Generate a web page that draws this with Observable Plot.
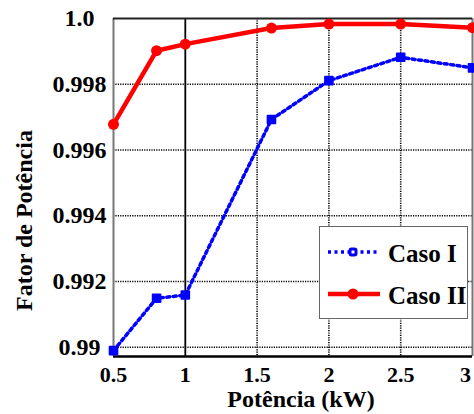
<!DOCTYPE html>
<html>
<head>
<meta charset="utf-8">
<script src="https://cdn.jsdelivr.net/npm/d3@7"></script>
<script src="https://cdn.jsdelivr.net/npm/@observablehq/plot@0.6"></script>
<style>
  html, body { margin: 0; padding: 0; background: #fff; }
  #chart { position: relative; width: 474px; height: 414px; }
  #chart svg, #chart svg text { font-family: "Liberation Serif", "Times New Roman", serif !important; font-weight: bold; }
</style>
</head>
<body>
<div id="chart"></div>
<script>
const potencia = [0.5, 0.8, 1.0, 1.6, 2.0, 2.5, 3.0];
const casoI = [0.98990, 0.99149, 0.99159, 0.99693, 0.99811, 0.99882, 0.99850];
const casoII = [0.99678, 0.99902, 0.99922, 0.99971, 0.99983, 0.99983, 0.99972];
const seriesNames = ["Caso I", "Caso II"];
const xTicks = [0.5, 1, 1.5, 2, 2.5, 3];
const xTickLabels = ["0.5", "1", "1.5", "2", "2.5", "3"];
const yTicks = [0.99, 0.992, 0.994, 0.996, 0.998, 1.0];
const yTickLabels = ["0.99", "0.992", "0.994", "0.996", "0.998", "1.0"];
const xDomain = [0.5, 3];
const yDomain = [0.98972, 1.0];

const dataI = potencia.map((x, i) => ({x, y: casoI[i]}));
const dataII = potencia.map((x, i) => ({x, y: casoII[i]}));

const font = "Liberation Serif";
const xLabel = d => xTickLabels[xTicks.indexOf(d)];

const plot = Plot.plot({
  width: 474,
  height: 414,
  marginLeft: 113,
  marginRight: 2,
  marginTop: 18,
  marginBottom: 58,
  style: {background: "#fff"},
  x: {domain: xDomain},
  y: {domain: yDomain},
  marks: [
    // grid
    Plot.ruleY(yTicks.filter(d => d < 1), {stroke: "#000", strokeWidth: 1.6, strokeDasharray: "1.2,1.2"}),
    Plot.ruleX(xTicks.filter(d => d > 1 && d < 3), {stroke: "#000", strokeWidth: 1.6, strokeDasharray: "1.2,1.2"}),
    Plot.ruleX([1], {stroke: "#000", strokeWidth: 1.8}),
    // frame
    Plot.ruleX([xDomain[0]], {stroke: "#777", strokeWidth: 2}),
    Plot.ruleX([xDomain[1]], {stroke: "#777", strokeWidth: 2}),
    Plot.ruleY([yDomain[1]], {stroke: "#222", strokeWidth: 2}),
    Plot.ruleY([yDomain[0]], {stroke: "#000", strokeWidth: 2.5}),
    // axes
    Plot.axisX({
      ticks: xTicks.slice(0, -1), tickFormat: xLabel, tickSize: 0, tickPadding: 10,
      fontSize: 22, fontWeight: "bold", fontFamily: font, label: null
    }),
    Plot.axisX({
      ticks: xTicks.slice(-1), tickFormat: xLabel, tickSize: 0, tickPadding: 10, dx: -7,
      fontSize: 22, fontWeight: "bold", fontFamily: font, label: null
    }),
    Plot.axisY({
      ticks: yTicks, tickFormat: (d, i) => yTickLabels[i], tickSize: 0, tickPadding: 34,
      textAnchor: "middle", fontSize: 24, fontWeight: "bold", fontFamily: font, label: null
    }),
    Plot.text(["Potência (kW)"], {frameAnchor: "bottom", lineAnchor: "middle", textAnchor: "middle", dx: 8, dy: 43, fontSize: 24, fontWeight: "bold", fontFamily: font, fill: "#000"}),
    Plot.text(["Fator de Potência"], {frameAnchor: "left", lineAnchor: "middle", textAnchor: "middle", rotate: -90, dx: -89, dy: 33, fontSize: 24, fontWeight: "bold", fontFamily: font, fill: "#000"}),
    // Caso I
    Plot.line(dataI, {x: "x", y: "y", stroke: "#0000ff", strokeWidth: 3.5, strokeDasharray: "3,3.5"}),
    Plot.dot(dataI, {x: "x", y: "y", symbol: "square", r: 4.3, fill: "#0000ff", stroke: "#0000ff", strokeWidth: 2, strokeLinejoin: "round"}),
    // Caso II
    Plot.line(dataII, {x: "x", y: "y", stroke: "#ff0000", strokeWidth: 4.5}),
    Plot.dot(dataII, {x: "x", y: "y", r: 5.5, fill: "#ff0000"})
  ]
});

// Legend drawn inside the SVG
const svg = d3.select(plot);
const lg = svg.append("g").attr("font-family", font).attr("font-weight", "bold").attr("text-anchor", "start");
lg.append("rect").attr("x", 319.5).attr("y", 226.5).attr("width", 148).attr("height", 92)
  .attr("fill", "#fff").attr("stroke", "#666").attr("stroke-width", 1);
const entries = [
  {name: seriesNames[0], y: 252, color: "#0000ff", dash: "3,3.5", w: 3.5},
  {name: seriesNames[1], y: 294, color: "#ff0000", dash: null, w: 4.5}
];
entries.forEach((e, i) => {
  const l = lg.append("line").attr("x1", 328).attr("x2", 380).attr("y1", e.y).attr("y2", e.y)
    .attr("stroke", e.color).attr("stroke-width", e.w);
  if (e.dash) l.attr("stroke-dasharray", e.dash);
  if (i === 0) {
    lg.append("rect").attr("x", 350).attr("y", e.y - 3).attr("width", 6).attr("height", 6)
      .attr("rx", 1.5).attr("fill", "#fff").attr("stroke", e.color).attr("stroke-width", 3);
  } else {
    lg.append("circle").attr("cx", 353).attr("cy", e.y).attr("r", 5.5).attr("fill", e.color);
  }
  lg.append("text").attr("x", 388).attr("y", e.y + 10).attr("font-size", 25).attr("fill", "#000").attr("text-anchor", "start").text(e.name);
});

document.getElementById("chart").appendChild(plot);
</script>
</body>
</html>
